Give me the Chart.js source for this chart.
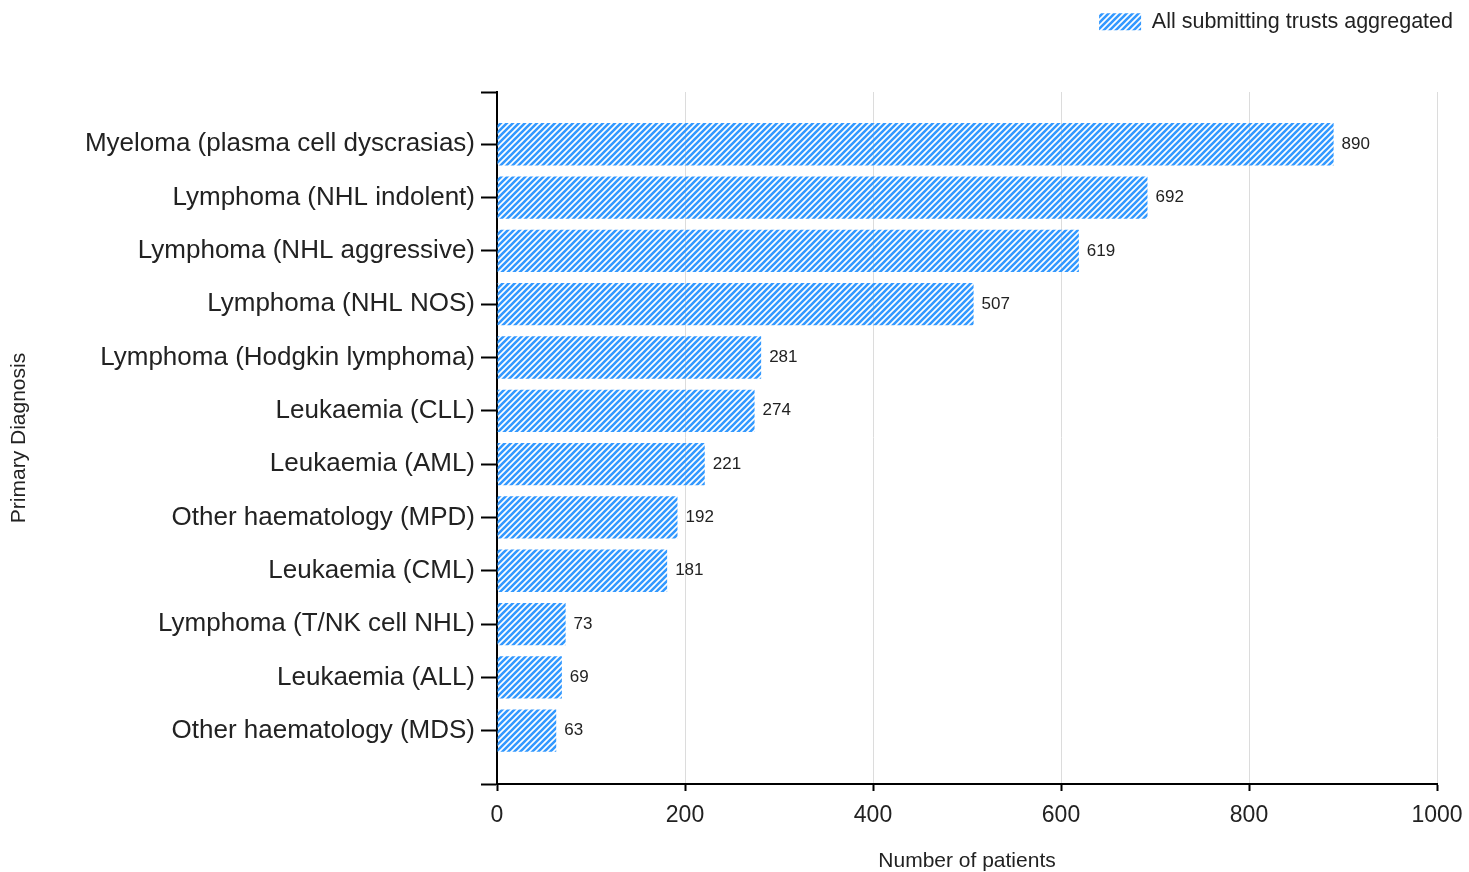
<!DOCTYPE html>
<html>
<head>
<meta charset="utf-8">
<title>Primary Diagnosis</title>
<script src="https://cdn.jsdelivr.net/npm/chart.js@4/dist/chart.umd.min.js"></script>
<style>
    html, body { margin: 0; padding: 0; background: #fff; }
    #wrap { width: 1469px; height: 872px; }
</style>
</head>
<body>
<div id="wrap"><canvas id="diagChart" width="1469" height="872"></canvas></div>
<script>
// Data
const diagnoses = [
    'Myeloma (plasma cell dyscrasias)',
    'Lymphoma (NHL indolent)',
    'Lymphoma (NHL aggressive)',
    'Lymphoma (NHL NOS)',
    'Lymphoma (Hodgkin lymphoma)',
    'Leukaemia (CLL)',
    'Leukaemia (AML)',
    'Other haematology (MPD)',
    'Leukaemia (CML)',
    'Lymphoma (T/NK cell NHL)',
    'Leukaemia (ALL)',
    'Other haematology (MDS)'
];
const patients = [890, 692, 619, 507, 281, 274, 221, 192, 181, 73, 69, 63];
const xTicks = [0, 200, 400, 600, 800, 1000];
const seriesName = 'All submitting trusts aggregated';

const FONT = "'Liberation Sans', Arial, sans-serif";
const BLUE = '#3399ff';

// diagonal hatch fill
function makeHatch() {
    const size = 6;
    const c = document.createElement('canvas');
    c.width = size;
    c.height = size;
    const g = c.getContext('2d');
    g.strokeStyle = BLUE;
    g.lineWidth = 2.6;
    g.beginPath();
    g.moveTo(0, size); g.lineTo(size, 0);
    g.moveTo(-size / 2, size / 2); g.lineTo(size / 2, -size / 2);
    g.moveTo(size / 2, size * 1.5); g.lineTo(size * 1.5, size / 2);
    g.stroke();
    return g.createPattern(c, 'repeat');
}
const hatch = makeHatch();

// y runs as an index axis with half a band of extra room at both ends
const yMin = -0.98;
const yMax = diagnoses.length;

const fixLegend = {
    id: 'fixLegend',
    beforeInit(chart) {
        const fit = chart.legend.fit;
        chart.legend.fit = function () {
            fit.call(this);
            this.height = 92;
        };
    }
};

const valueLabels = {
    id: 'valueLabels',
    afterDatasetsDraw(chart) {
        const ctx = chart.ctx;
        const meta = chart.getDatasetMeta(0);
        ctx.save();
        ctx.font = '17px ' + FONT;
        ctx.fillStyle = '#222';
        ctx.textAlign = 'left';
        ctx.textBaseline = 'middle';
        meta.data.forEach((bar, i) => {
            ctx.fillText(patients[i], bar.x + 8, bar.y);
        });
        ctx.restore();
    }
};

new Chart(document.getElementById('diagChart'), {
    type: 'bar',
    data: {
        datasets: [{
            label: seriesName,
            data: patients.map((v, i) => ({ x: v, y: i })),
            backgroundColor: hatch,
            borderWidth: 0,
            barPercentage: 0.81,
            categoryPercentage: 1
        }]
    },
    options: {
        indexAxis: 'y',
        responsive: false,
        animation: false,
        layout: {
            padding: { left: 0, right: 5, top: 0, bottom: 0 }
        },
        plugins: {
            legend: {
                position: 'top',
                align: 'end',
                labels: {
                    boxWidth: 42,
                    boxHeight: 17,
                    padding: 11,
                    color: '#222',
                    font: { family: FONT, size: 21.5 }
                }
            },
            tooltip: { enabled: false }
        },
        scales: {
            x: {
                type: 'linear',
                min: 0,
                max: 1000,
                afterFit: (scale) => {
                    scale.height = 88;
                    scale.paddingRight = 32;
                },
                afterBuildTicks: (scale) => { scale.ticks = xTicks.map(v => ({ value: v })); },
                border: { color: '#000', width: 2 },
                grid: {
                    color: '#dcdcdc',
                    lineWidth: 1,
                    tickColor: '#000',
                    tickLength: 7,
                    tickWidth: 2
                },
                ticks: {
                    padding: 11,
                    color: '#222',
                    font: { family: FONT, size: 23 },
                    callback: (value) => String(value)
                },
                title: {
                    display: true,
                    text: 'Number of patients',
                    color: '#222',
                    padding: { top: 0, bottom: 0 },
                    font: { family: FONT, size: 21, lineHeight: 1 }
                }
            },
            y: {
                type: 'linear',
                reverse: true,
                offset: false,
                min: yMin,
                max: yMax,
                afterFit: (scale) => { scale.width = 497; },
                afterBuildTicks: (scale) => {
                    scale.ticks = [yMin, ...diagnoses.map((d, i) => i), yMax].map(v => ({ value: v }));
                },
                border: { color: '#000', width: 2 },
                grid: {
                    offset: false,
                    drawOnChartArea: false,
                    tickColor: '#000',
                    tickLength: 16,
                    tickWidth: 2
                },
                ticks: {
                    autoSkip: false,
                    padding: 6,
                    color: '#222',
                    font: { family: FONT, size: 26 },
                    callback: (value) => diagnoses[value] ?? ''
                },
                title: {
                    display: true,
                    text: 'Primary Diagnosis',
                    color: '#222',
                    padding: { top: 7, bottom: 0 },
                    font: { family: FONT, size: 21 }
                }
            }
        }
    },
    plugins: [fixLegend, valueLabels]
});
</script>
</body>
</html>
